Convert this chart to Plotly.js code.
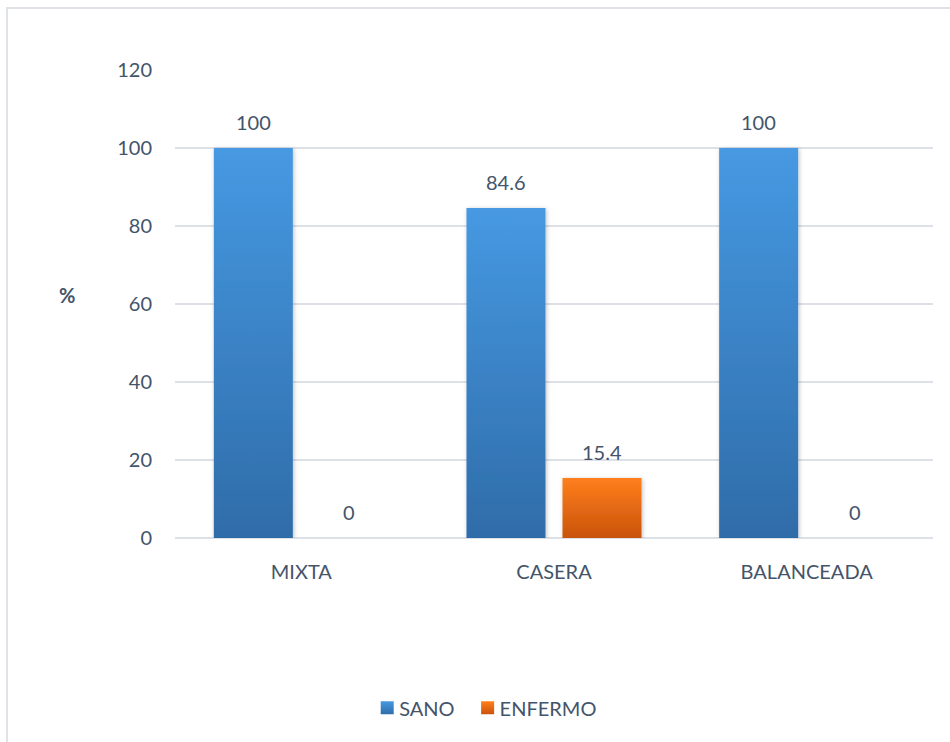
<!DOCTYPE html>
<html>
<head>
<meta charset="utf-8">
<script src="https://cdn.plot.ly/plotly-3.0.1.min.js"></script>
<style>
  html, body { margin: 0; padding: 0; background: #ffffff; }
  #chart { position: absolute; left: 0; top: 0; width: 950px; height: 742px; }
  #frame { position: absolute; left: 6px; top: 7px; width: 980px; height: 780px;
           border: 2px solid #dfe3e8; box-sizing: border-box; pointer-events: none; }
</style>
</head>
<body>
<div id="frame"></div>
<div id="chart"></div>
<script>
const categories = ["MIXTA", "CASERA", "BALANCEADA"];
const sanoValues = [100, 84.6, 100];
const enfermoValues = [0, 15.4, 0];
const seriesNames = ["SANO", "ENFERMO"];
const yTicks = [0, 20, 40, 60, 80, 100, 120];

const textColor = "#44546a";
const fam = "Lato, Open Sans, sans-serif";
const fsize = 20;
const font = { family: fam, size: fsize, color: textColor };

const traces = [
  {
    type: "bar", name: seriesNames[0], x: categories, y: sanoValues,
    marker: { color: "#3b82c8", line: { width: 0 } }, hoverinfo: "none"
  },
  {
    type: "bar", name: seriesNames[1], x: categories, y: enfermoValues,
    marker: { color: "#ea6b12", line: { width: 0 } }, hoverinfo: "none"
  }
];

// value labels placed through the axes at each bar's data position
const labelShift = 48;
const annotations = [];
[sanoValues, enfermoValues].forEach(function (vals, s) {
  vals.forEach(function (v, i) {
    annotations.push({
      x: categories[i], y: v, xref: "x", yref: "y",
      text: String(v), showarrow: false,
      xanchor: "center", yanchor: "middle",
      xshift: s === 0 ? -labelShift : labelShift, yshift: 26,
      font: font
    });
  });
});
annotations.push({ text: "<b>%</b>", xref: "paper", yref: "paper", x: -0.143, y: 0.52,
  showarrow: false, xanchor: "center", yanchor: "middle", font: font });

const layout = {
  width: 950, height: 742,
  margin: { l: 175, r: 17, t: 70, b: 204 },
  paper_bgcolor: "rgba(0,0,0,0)",
  plot_bgcolor: "rgba(0,0,0,0)",
  font: font,
  barmode: "group",
  bargap: 0.24,
  bargroupgap: 0.177,
  showlegend: true,
  legend: {
    orientation: "h", x: 0.506, xanchor: "center", xref: "container",
    y: 0.046, yanchor: "middle", yref: "container",
    font: font, itemwidth: 30, tracegroupgap: 0
  },
  xaxis: {
    type: "category", showgrid: false, zeroline: false, showline: false,
    ticks: "", ticklabelstandoff: 20, tickfont: font
  },
  yaxis: {
    range: [0, 120], tickvals: yTicks, ticktext: yTicks.map(String),
    showgrid: true, gridcolor: "#dde1e7", gridwidth: 1.5,
    zeroline: true, zerolinecolor: "#dde1e7", zerolinewidth: 1.5,
    showline: false, ticks: "", ticklabelstandoff: 22, tickfont: font
  },
  annotations: annotations
};

Plotly.newPlot("chart", traces, layout, { displayModeBar: false, staticPlot: true }).then(function (gd) {
  const svg = gd.querySelector("svg.main-svg");
  const ns = "http://www.w3.org/2000/svg";
  let defs = svg.querySelector("defs");
  if (!defs) { defs = document.createElementNS(ns, "defs"); svg.insertBefore(defs, svg.firstChild); }
  function grad(id, top, bottom) {
    const g = document.createElementNS(ns, "linearGradient");
    g.setAttribute("id", id);
    g.setAttribute("x1", "0"); g.setAttribute("y1", "0");
    g.setAttribute("x2", "0"); g.setAttribute("y2", "1");
    [[0, top], [1, bottom]].forEach(function (s) {
      const st = document.createElementNS(ns, "stop");
      st.setAttribute("offset", s[0]);
      st.setAttribute("stop-color", s[1]);
      g.appendChild(st);
    });
    defs.appendChild(g);
  }
  grad("gradSano", "#4699e2", "#2f6ca9");
  grad("gradEnf", "#ff7f1c", "#c9530b");
  const f = document.createElementNS(ns, "filter");
  f.setAttribute("id", "barShadow");
  f.setAttribute("x", "-20%"); f.setAttribute("y", "-20%");
  f.setAttribute("width", "140%"); f.setAttribute("height", "140%");
  f.innerHTML = '<feDropShadow dx="1" dy="1" stdDeviation="2" flood-color="#000" flood-opacity="0.25"/>';
  defs.appendChild(f);
  gd.querySelectorAll(".barlayer .trace").forEach(function (t, i) {
    const id = i === 0 ? "gradSano" : "gradEnf";
    t.querySelectorAll(".point path").forEach(function (p) {
      p.style.fill = "url(#" + id + ")";
      p.setAttribute("filter", "url(#barShadow)");
    });
  });
  gd.querySelectorAll(".legend .traces").forEach(function (t, i) {
    const id = i === 0 ? "gradSano" : "gradEnf";
    const lp = t.querySelector(".legendpoints");
    if (lp) lp.setAttribute("transform", "translate(8,0)");
    t.querySelectorAll(".legendpoints path").forEach(function (p) {
      p.setAttribute("d", "M6.5,6.5H-6.5V-6.5H6.5Z");
      p.style.fill = "url(#" + id + ")";
      p.style.stroke = "none";
    });
  });
});
</script>
</body>
</html>
